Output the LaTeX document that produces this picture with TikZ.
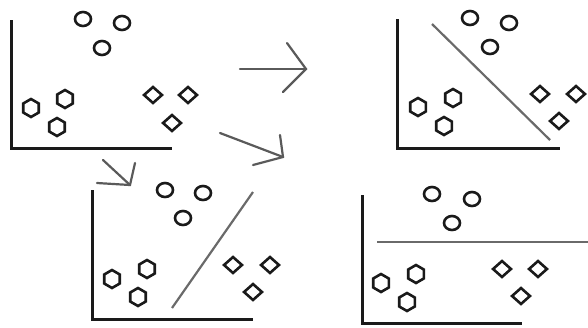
\documentclass[tikz,border=0pt]{standalone}
\usetikzlibrary{shapes.geometric}
\definecolor{ink}{HTML}{1A1A1A}
\definecolor{sep}{HTML}{6A6A6A}
\definecolor{arr}{HTML}{5A5A5A}
\tikzset{
  axis/.style={draw=ink,line width=3pt},
  circ/.style={ellipse,draw=ink,line width=2.6pt,minimum width=16pt,minimum height=14pt,inner sep=0pt},
  hexa/.style={regular polygon,regular polygon sides=6,shape border rotate=30,draw=ink,line width=2.6pt,minimum size=18pt,inner sep=0pt},
  diam/.style={diamond,draw=ink,line width=2.6pt,minimum width=19pt,minimum height=17pt,inner sep=0pt},
  sepline/.style={draw=sep,line width=2.2pt},
  arrline/.style={draw=arr,line width=2.2pt,line cap=round,line join=miter},
}
\begin{document}
\begin{tikzpicture}[x=1pt,y=-1pt]
\useasboundingbox (0,0) rectangle (588,327);
% ---------- Panel 1 ----------
\coordinate (a1t) at (11,20); \coordinate (a1o) at (11,148); \coordinate (a1r) at (172,148);
\draw[axis] (a1t) -- (a1o) -- (a1r);
\node[circ] (p1c1) at (83,19) {};
\node[circ] (p1c2) at (122,23) {};
\node[circ] (p1c3) at (102,48) {};
\node[hexa] (p1h1) at (31,108) {};
\node[hexa] (p1h2) at (65,99) {};
\node[hexa] (p1h3) at (57,127) {};
\node[diam] (p1d1) at (153,95) {};
\node[diam] (p1d2) at (188,95) {};
\node[diam] (p1d3) at (172,123) {};
% ---------- Panel 2 ----------
\coordinate (a2t) at (397,19); \coordinate (a2o) at (397,148); \coordinate (a2r) at (560,148);
\draw[axis] (a2t) -- (a2o) -- (a2r);
\node[circ] (p2c1) at (470,18) {};
\node[circ] (p2c2) at (509,23) {};
\node[circ] (p2c3) at (490,47) {};
\node[hexa] (p2h1) at (418,107) {};
\node[hexa] (p2h2) at (453,98) {};
\node[hexa] (p2h3) at (444,126) {};
\node[diam] (p2d1) at (540,94) {};
\node[diam] (p2d2) at (576,94) {};
\node[diam] (p2d3) at (559,121) {};
\coordinate (s2a) at (432,24); \coordinate (s2b) at (550,140);
\draw[sepline] (s2a) -- (s2b);
% ---------- Panel 3 ----------
\coordinate (a3t) at (92,190); \coordinate (a3o) at (92,319); \coordinate (a3r) at (253,319);
\draw[axis] (a3t) -- (a3o) -- (a3r);
\node[circ] (p3c1) at (165,190) {};
\node[circ] (p3c2) at (203,193) {};
\node[circ] (p3c3) at (183,218) {};
\node[hexa] (p3h1) at (112,279) {};
\node[hexa] (p3h2) at (147,269) {};
\node[hexa] (p3h3) at (138,297) {};
\node[diam] (p3d1) at (233,265) {};
\node[diam] (p3d2) at (270,265) {};
\node[diam] (p3d3) at (253,292) {};
\coordinate (s3a) at (172,308); \coordinate (s3b) at (253,192);
\draw[sepline] (s3a) -- (s3b);
% ---------- Panel 4 ----------
\coordinate (a4t) at (362,195); \coordinate (a4o) at (362,323); \coordinate (a4r) at (522,323);
\draw[axis] (a4t) -- (a4o) -- (a4r);
\node[circ] (p4c1) at (432,194) {};
\node[circ] (p4c2) at (472,199) {};
\node[circ] (p4c3) at (452,223) {};
\node[hexa] (p4h1) at (381,283) {};
\node[hexa] (p4h2) at (416,274) {};
\node[hexa] (p4h3) at (407,302) {};
\node[diam] (p4d1) at (502,269) {};
\node[diam] (p4d2) at (538,269) {};
\node[diam] (p4d3) at (521,296) {};
\coordinate (s4a) at (377,242); \coordinate (s4b) at (588,242);
\draw[sepline] (s4a) -- (s4b);
% ---------- Arrows ----------
\coordinate (r1s) at (240,69); \coordinate (r1t) at (306,69);
\coordinate (r1u) at (287,43); \coordinate (r1d) at (283,92);
\draw[arrline] (r1s) -- (r1t);
\draw[arrline] (r1u) -- (r1t) -- (r1d);
\coordinate (r2s) at (220,133); \coordinate (r2t) at (283,157);
\coordinate (r2u) at (280,135); \coordinate (r2d) at (253,165);
\draw[arrline] (r2s) -- (r2t);
\draw[arrline] (r2u) -- (r2t) -- (r2d);
\coordinate (r3s) at (103,160); \coordinate (r3t) at (130,185);
\coordinate (r3u) at (135,163); \coordinate (r3d) at (97,183);
\draw[arrline] (r3s) -- (r3t);
\draw[arrline] (r3u) -- (r3t) -- (r3d);
\end{tikzpicture}
\end{document}
